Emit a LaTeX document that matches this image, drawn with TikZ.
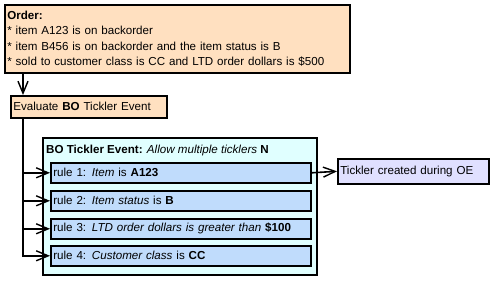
\documentclass[tikz,border=0pt]{standalone}
\usepackage{fontspec}
\setmainfont{Liberation Sans}
\usepackage{tikz}
\usetikzlibrary{arrows.meta, positioning, calc, shadows}
\definecolor{cPeach}{RGB}{255,224,192}
\definecolor{cCyan}{RGB}{224,255,255}
\definecolor{cRule}{RGB}{192,220,252}
\definecolor{cLav}{RGB}{224,224,255}
\tikzset{
	box/.style      ={rectangle, draw=black, line width=1.6pt, anchor=north west, inner sep=2.5pt, align=left,
	                  drop shadow={shadow xshift=0.8pt, shadow yshift=-0.8pt, fill=black, opacity=1}},
	orderbox/.style ={box, fill=cPeach, minimum width=345pt, minimum height=68pt, text width=340pt},
	evalbox/.style  ={box, fill=cPeach, minimum width=156pt, minimum height=22pt, text width=151pt},
	rulebox/.style  ={box, fill=cRule, minimum width=260pt, minimum height=20pt, text width=255pt},
	resultbox/.style={box, fill=cLav, minimum width=151pt, minimum height=25pt, text width=146pt},
	flowarrow/.style={-{Straight Barb[length=12pt, width=10pt, line width=1.4pt]}, line width=1.6pt},
}
\begin{document}
\begin{tikzpicture}[x=1pt, y=-1pt, font=\fontsize{11.6}{15.5}\selectfont]
	\useasboundingbox (0,0) rectangle (492,281);
	\node[orderbox] (order) at (4,4) {\textbf{Order:}\\
		{*} item A123 is on backorder\\
		{*} item B456 is on backorder and the item status is B\\
		{*} sold to customer class is CC and LTD order dollars is \$500};
	\node[evalbox] (eval) at (10,95) {Evaluate \textbf{BO} Tickler Event};
	% container for the rules
	\draw[line width=1.6pt, fill=cCyan, drop shadow={shadow xshift=0.8pt, shadow yshift=-0.8pt, fill=black, opacity=1}]
		(43,138) coordinate (ev1) rectangle (317,275) coordinate (ev2);
	\node[anchor=west, inner sep=0pt] (evtitle) at (46,150) {\textbf{BO Tickler Event:} \textit{Allow multiple ticklers} \textbf{N}};
	\node[rulebox] (rule1) at (50,162) {rule 1: \textit{Item} is \textbf{A123}};
	\node[rulebox] (rule2) at (50,190) {rule 2: \textit{Item status} is \textbf{B}};
	\node[rulebox] (rule3) at (50,218) {rule 3: \textit{LTD order dollars is greater than} \textbf{\$100}};
	\node[rulebox] (rule4) at (50,245) {rule 4: \textit{Customer class} is \textbf{CC}};
	\node[resultbox] (result) at (337,158) {Tickler created during OE};
	\coordinate (trunk) at (23,0);
	\draw[flowarrow] (order.south -| trunk) -- (eval.north -| trunk);
	\draw[flowarrow] (eval.south -| trunk) |- (rule4.west);
	\foreach \i in {1,2,3}
		\draw[flowarrow] (rule\i.west -| trunk) -- (rule\i.west);
	\draw[flowarrow] (rule1.east) -- (result.west);
\end{tikzpicture}
\end{document}
